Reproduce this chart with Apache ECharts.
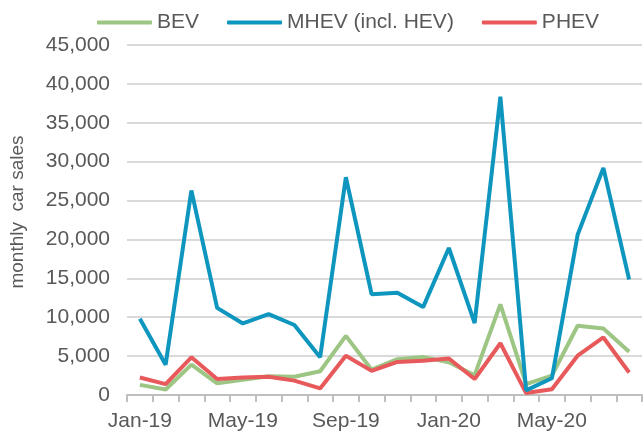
<!DOCTYPE html>
<html>
<head>
<meta charset="utf-8">
<script src="https://cdn.jsdelivr.net/npm/echarts@6/dist/echarts.min.js"></script>
<style>
    html, body { margin: 0; padding: 0; background: #fff; }
    #chart { width: 644px; height: 432px; }
</style>
</head>
<body>
<div id="chart"></div>
<script>
    // months Jan-19 .. Aug-20
    const months = ['Jan-19', 'Feb-19', 'Mar-19', 'Apr-19', 'May-19', 'Jun-19', 'Jul-19', 'Aug-19',
        'Sep-19', 'Oct-19', 'Nov-19', 'Dec-19', 'Jan-20', 'Feb-20', 'Mar-20', 'Apr-20',
        'May-20', 'Jun-20', 'Jul-20', 'Aug-20'];
    const bev = [1300, 700, 3900, 1500, 1950, 2400, 2350, 3050, 7600, 3250,
        4600, 4900, 4200, 2550, 11650, 1400, 2500, 8900, 8550, 5550];
    const mhev = [9800, 3900, 26300, 11200, 9200, 10400, 9000, 4850, 28000, 12950,
        13150, 11300, 18900, 9250, 38350, 600, 2150, 20600, 29200, 14850];
    const phev = [2250, 1400, 4850, 2050, 2250, 2350, 1850, 850, 5050, 3100,
        4250, 4400, 4700, 2050, 6650, 250, 750, 5050, 7400, 2900];

    const colors = ['#9dc584', '#0f96bf', '#e8595c'];
    const font = '"Liberation Sans", Arial, sans-serif';

    const myChart = echarts.init(document.getElementById('chart'));
    const option = {
        color: colors,
        animation: false,
        textStyle: { fontFamily: font },
        legend: {
            top: 12,
            left: 97,
            padding: 0,
            itemWidth: 55,
            itemHeight: 4,
            itemGap: 28,
            icon: 'roundRect',
            textStyle: { fontSize: 21, color: '#595959', fontFamily: font },
            data: ['BEV', 'MHEV (incl. HEV)', 'PHEV']
        },
        grid: { left: 115, right: 2, top: 45, bottom: 36 },
        xAxis: {
            type: 'category',
            boundaryGap: true,
            data: months,
            axisLine: { lineStyle: { color: '#bfbfbf', width: 2 } },
            axisTick: { show: true, interval: 0, length: 7, lineStyle: { color: '#bfbfbf', width: 2 } },
            axisLabel: { interval: 3, fontSize: 21, color: '#595959', margin: 16, fontFamily: font }
        },
        yAxis: {
            type: 'value',
            min: 0,
            max: 45000,
            interval: 5000,
            name: 'monthly  car sales',
            nameLocation: 'middle',
            nameGap: 100,
            nameTextStyle: { fontSize: 19, color: '#595959', fontFamily: font, padding: [0, 0, 0, 16] },
            axisLine: { show: false },
            axisTick: { show: false },
            axisLabel: {
                fontSize: 21, color: '#595959', margin: 17, fontFamily: font,
                formatter: v => v.toLocaleString('en-US')
            },
            splitLine: { lineStyle: { color: '#d9d9d9', width: 2 } }
        },
        series: [
            {
                name: 'BEV', type: 'line', data: bev, symbol: 'none', z: 2,
                lineStyle: { width: 4, color: colors[0] }
            },
            {
                name: 'MHEV (incl. HEV)', type: 'line', data: mhev, symbol: 'none', z: 4,
                lineStyle: { width: 4, color: colors[1] }
            },
            {
                name: 'PHEV', type: 'line', data: phev, symbol: 'none', z: 3,
                lineStyle: { width: 4, color: colors[2] }
            }
        ]
    };
    myChart.setOption(option);
</script>
</body>
</html>
